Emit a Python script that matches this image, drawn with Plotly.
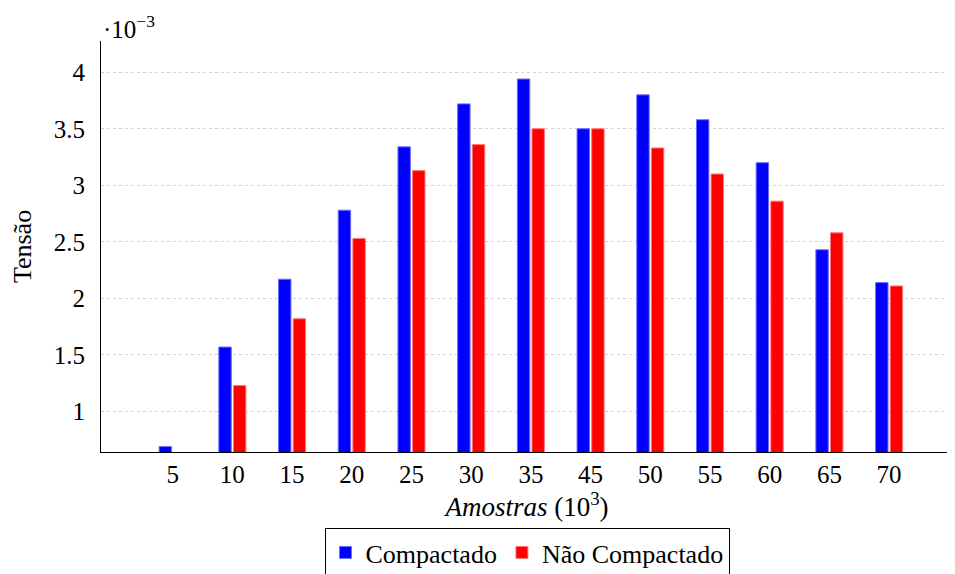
import plotly.graph_objects as go

categories = ["5", "10", "15", "20", "25", "30", "35", "45", "50", "55", "60", "65", "70"]
compactado = [0.69, 1.57, 2.17, 2.78, 3.34, 3.72, 3.94, 3.50, 3.80, 3.58, 3.20, 2.43, 2.14]
nao_compactado = [None, 1.23, 1.82, 2.53, 3.13, 3.36, 3.50, 3.50, 3.33, 3.10, 2.86, 2.58, 2.11]
y_ticks = [1, 1.5, 2, 2.5, 3, 3.5, 4]

font_family = "Liberation Serif"
fs = 25

fig = go.Figure()
fig.add_trace(go.Bar(x=categories, y=compactado, name="Compactado",
                     marker=dict(color="#0000FF", line=dict(color="rgba(110,110,255,1)", width=1))))
fig.add_trace(go.Bar(x=categories, y=nao_compactado, name="Não Compactado",
                     marker=dict(color="#FF0000", line=dict(color="rgba(255,120,120,1)", width=1))))

fig.update_layout(
    width=947, height=566,
    margin=dict(l=93, r=2, t=33, b=122, autoexpand=False),
    paper_bgcolor="white", plot_bgcolor="white",
    font=dict(family=font_family, size=fs, color="black"),
    barmode="group", bargap=0.51, bargroupgap=0.15,
    showlegend=True,
    legend=dict(orientation="h", x=0.5, xanchor="center", y=-0.185, yanchor="top",
                bordercolor="black", borderwidth=1, bgcolor="white",
                font=dict(family=font_family, size=26), itemwidth=30,
                traceorder="normal", tracegroupgap=0),
    xaxis=dict(type="category", range=[-1.2, 13.07], showgrid=False, automargin=False,
               showline=True, linecolor="black", linewidth=1, ticks="",
               tickfont=dict(family=font_family, size=fs),
               title=dict(text="<i>Amostras</i> (10<sup>3</sup>)", font=dict(family=font_family, size=27), standoff=8)),
    yaxis=dict(range=[0.642, 4.276], tickvals=y_ticks, ticktext=[str(v) for v in y_ticks],
               showgrid=True, gridcolor="#d2d2d2", griddash="dot", gridwidth=1, automargin=False,
               showline=True, linecolor="black", linewidth=1, ticks="",
               zeroline=False, tickfont=dict(family=font_family, size=fs), ticklabelstandoff=10,
               title=dict(text="Tensão", font=dict(family=font_family, size=26), standoff=22)),
    annotations=[dict(text="·10<sup>−3</sup>", xref="paper", yref="paper", x=0, y=1.0,
                      xanchor="left", yanchor="bottom", showarrow=False,
                      font=dict(family=font_family, size=25), yshift=-4)],
)

fig.write_html("out.html")
